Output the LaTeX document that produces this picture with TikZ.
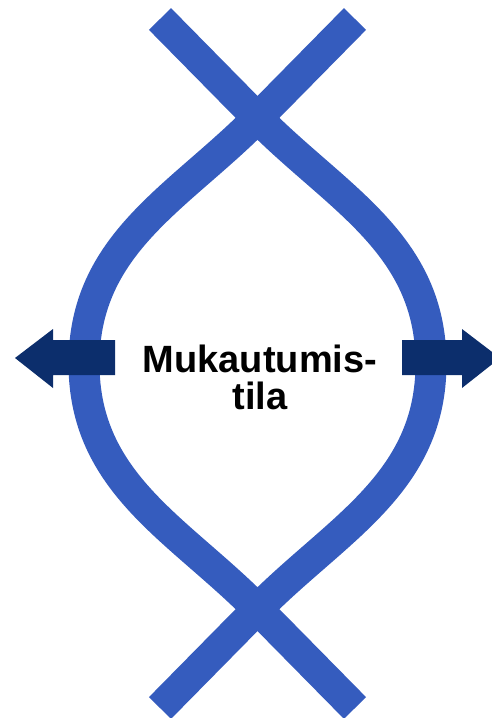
\documentclass[tikz,border=0pt]{standalone}
\usepackage{fontspec}
\setmainfont{Liberation Sans}
\definecolor{strandblue}{RGB}{53,92,190}
\definecolor{arrownavy}{RGB}{12,46,108}
\begin{document}
\begin{tikzpicture}[x=1pt,y=-1pt,
  strand/.style={draw=strandblue,line width=31pt},
  bigarrow/.style={fill=arrownavy,draw=none},
  label/.style={font=\fontsize{38}{37}\selectfont\bfseries,text=black,inner sep=0pt,anchor=base}]
\useasboundingbox (0,0) rectangle (492,718);
\clip (0,0) rectangle (492,718);
% key points
\coordinate (tl) at (160,19);
\coordinate (tr) at (355,19);
\coordinate (bl) at (160,708);
\coordinate (br) at (355,708);
\coordinate (xt) at (257.5,118);
\coordinate (xb) at (257.5,609);
\coordinate (wl) at (84,363.5);
\coordinate (wr) at (431,363.5);
% strand from top-left to right bulge to bottom-left
\draw[strand] (tl) -- (xt) .. controls (336.3,198) and (431,243.5) .. (wr)
  .. controls (431,483.5) and (336.3,529) .. (xb) -- (bl);
% strand from top-right to left bulge to bottom-right
\draw[strand] (tr) -- (xt) .. controls (178.7,198) and (84,243.5) .. (wl)
  .. controls (84,483.5) and (178.7,529) .. (xb) -- (br);
% arrows
\fill[bigarrow] (115,340) -- (53,340) -- (53,329) -- (15,358) -- (53,388) -- (53,375) -- (115,375) -- cycle;
\fill[bigarrow] (402,340) -- (462,340) -- (462,329) -- (500,358) -- (462,388) -- (462,375) -- (402,375) -- cycle;
\node[label] (l1) at (260,372) {Mukautumis-};
\node[label] (l2) at (260,409) {tila};
\end{tikzpicture}
\end{document}
